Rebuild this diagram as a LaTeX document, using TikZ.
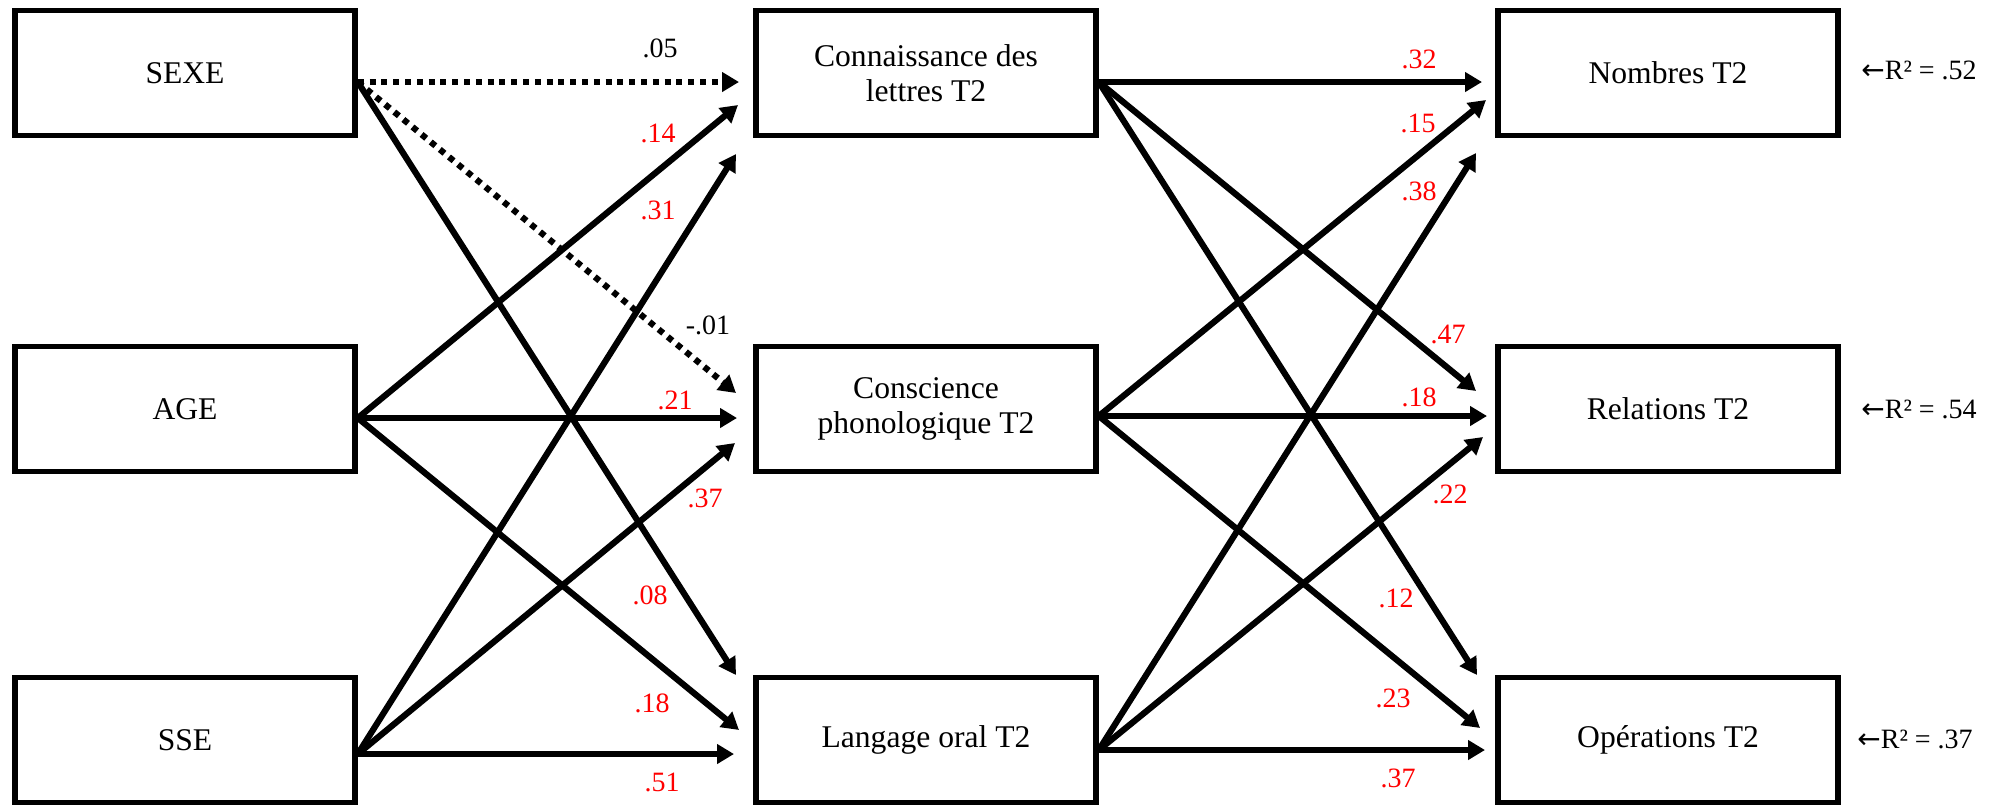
\documentclass[tikz,border=0pt]{standalone}
\usepackage{fontspec}
\setmainfont{Liberation Serif}
\newfontfamily\arrowfont{DejaVu Sans}
\usetikzlibrary{arrows.meta}
\begin{document}
\begin{tikzpicture}[x=0.5pt,y=-0.5pt,
  box/.style={draw,line width=2.8pt,minimum width=170pt,minimum height=62.5pt,inner sep=0pt,align=center,font=\fontsize{15.8}{17.5}\selectfont},
  conn/.style={line width=3.1pt,-{Triangle[length=8.5pt,width=9.5pt]}},
  dotline/.style={conn,dash pattern=on 3pt off 2.9pt},
  coef/.style={font=\fontsize{14}{16}\selectfont,inner sep=0pt,text=red},
  coefk/.style={coef,text=black},
  rsq/.style={font=\fontsize{14}{16}\selectfont,inner sep=0pt,anchor=base west}]
\useasboundingbox (0,0) rectangle (2008,805);

% boxes
\node[box] (SEXE) at (185,73) {SEXE};
\node[box] (AGE) at (185,409) {AGE};
\node[box] (SSE) at (185,740) {SSE};
\node[box] (CL) at (926,73) {Connaissance des\\lettres T2};
\node[box] (CP) at (926,409) {Conscience\\phonologique T2};
\node[box] (LO) at (926,740) {Langage oral T2};
\node[box] (NB) at (1668,73) {Nombres T2};
\node[box] (RL) at (1668,409) {Relations T2};
\node[box] (OP) at (1668,740) {Opérations T2};

% start points
\coordinate (oSEXE) at ([yshift=-4.5pt]SEXE.east);
\coordinate (oAGE) at ([yshift=-4.5pt]AGE.east);
\coordinate (oSSE) at ([yshift=-7pt]SSE.east);
\coordinate (oCL) at ([yshift=-4.5pt]CL.east);
\coordinate (oCP) at ([yshift=-3.5pt]CP.east);
\coordinate (oLO) at ([yshift=-5pt]LO.east);

% arrow tips
\coordinate (tCL1) at (739,82);
\coordinate (tCL2) at (738,105);
\coordinate (tCL3) at (736,154);
\coordinate (tCP1) at (736,393);
\coordinate (tCP2) at (737,418);
\coordinate (tCP3) at (735,443);
\coordinate (tLO1) at (736,675);
\coordinate (tLO2) at (739,730);
\coordinate (tLO3) at (734,754);
\coordinate (tNB1) at (1482,82);
\coordinate (tNB2) at (1486,100);
\coordinate (tNB3) at (1476,153);
\coordinate (tRL1) at (1476,391);
\coordinate (tRL2) at (1487,416);
\coordinate (tRL3) at (1483,437);
\coordinate (tOP1) at (1477,675);
\coordinate (tOP2) at (1480,728);
\coordinate (tOP3) at (1485,750);

% left to middle
\draw[dotline] (oSEXE) -- (tCL1);
\draw[dotline] (oSEXE) -- (tCP1);
\draw[conn] (oSEXE) -- (tLO1);
\draw[conn] (oAGE) -- (tCL2);
\draw[conn] (oAGE) -- (tCP2);
\draw[conn] (oAGE) -- (tLO2);
\draw[conn] (oSSE) -- (tCL3);
\draw[conn] (oSSE) -- (tCP3);
\draw[conn] (oSSE) -- (tLO3);

% middle to right
\draw[conn] (oCL) -- (tNB1);
\draw[conn] (oCL) -- (tRL1);
\draw[conn] (oCL) -- (tOP1);
\draw[conn] (oCP) -- (tNB2);
\draw[conn] (oCP) -- (tRL2);
\draw[conn] (oCP) -- (tOP2);
\draw[conn] (oLO) -- (tNB3);
\draw[conn] (oLO) -- (tRL3);
\draw[conn] (oLO) -- (tOP3);

% coefficients
\node[coefk] (c1) at (660,48) {.05};
\node[coef] (c2) at (658,133) {.14};
\node[coef] (c3) at (658,210) {.31};
\node[coefk] (c4) at (708,325) {-.01};
\node[coef] (c5) at (675,400) {.21};
\node[coef] (c6) at (705,498) {.37};
\node[coef] (c7) at (650,595) {.08};
\node[coef] (c8) at (652,703) {.18};
\node[coef] (c9) at (662,782) {.51};
\node[coef] (c10) at (1419,59) {.32};
\node[coef] (c11) at (1418,123) {.15};
\node[coef] (c12) at (1419,191) {.38};
\node[coef] (c13) at (1448,334) {.47};
\node[coef] (c14) at (1419,397) {.18};
\node[coef] (c15) at (1450,494) {.22};
\node[coef] (c16) at (1396,598) {.12};
\node[coef] (c17) at (1393,698) {.23};
\node[coef] (c18) at (1398,778) {.37};

% R squared
\node[rsq] (r1) at (1861,79) {{\arrowfont ←}R² = .52};
\node[rsq] (r2) at (1861,418) {{\arrowfont ←}R² = .54};
\node[rsq] (r3) at (1857,748) {{\arrowfont ←}R² = .37};
\end{tikzpicture}
\end{document}
